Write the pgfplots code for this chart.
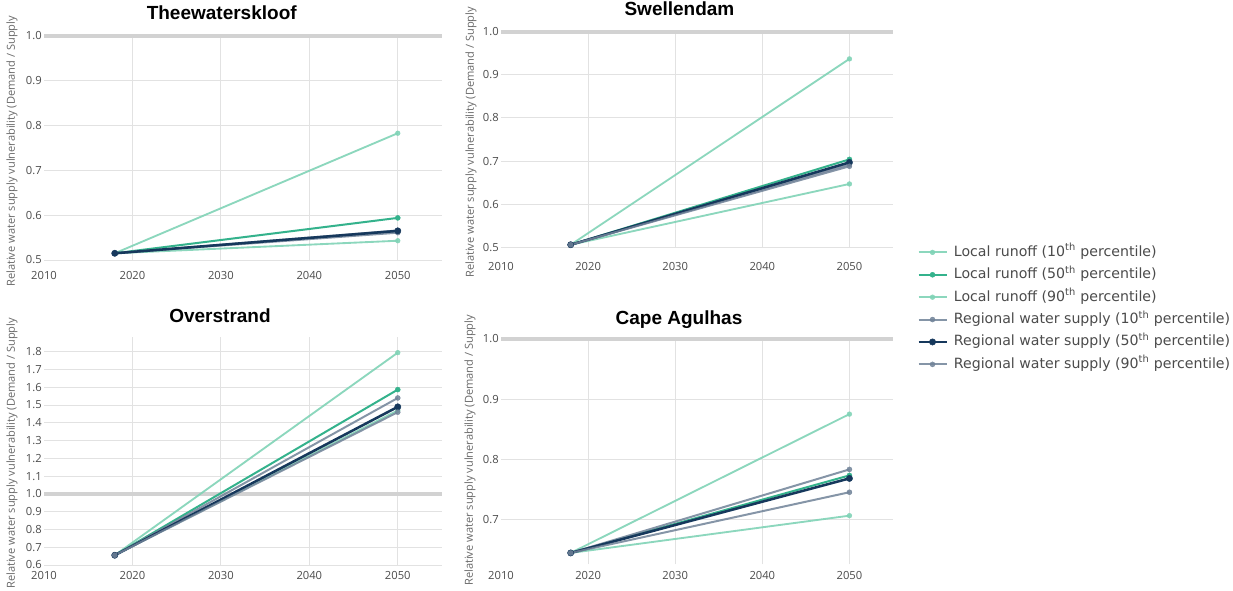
\documentclass[border=0pt]{standalone}
\usepackage{pgfplots}
\pgfplotsset{compat=1.18}
\usepackage{fontspec}
\setmainfont{Open Sans}
\newfontfamily\titlefont{Liberation Sans}
\newfontfamily\legendfont{DejaVu Sans}

\definecolor{lightteal}{RGB}{128,211,182}
\definecolor{midteal}{RGB}{52,178,140}
\definecolor{slate}{RGB}{112,130,152}
\definecolor{navy}{RGB}{22,56,92}
\definecolor{gridgray}{RGB}{226,226,226}
\definecolor{refgray}{RGB}{210,210,210}
\definecolor{ticktext}{RGB}{75,75,75}
\definecolor{labeltext}{RGB}{105,105,105}

\pgfplotsset{
  panel/.style={
    scale only axis,
    anchor=north west,
    axis line style={draw=none},
    major tick length=0pt,
    xmin=2010, xmax=2055,
    xtick={2020,2030,2040,2050},
    xticklabels={2020,2030,2040,2050},
    extra x ticks={2010},
    extra x tick labels={2010},
    extra x tick style={major grid style={draw=none}},
    extra y ticks={1},
    extra y tick labels={},
    extra y tick style={major grid style={draw=refgray, line width=3pt}},
    xmajorgrids, ymajorgrids,
    major grid style={draw=gridgray, line width=0.75pt},
    ticklabel style={font=\fontsize{8.4pt}{10pt}\selectfont, text=ticktext},
    yticklabel style={anchor=east, inner sep=0pt, xshift=-1.5pt},
    clip=false,
  },
  l10/.style={draw=lightteal, line width=1.4pt, opacity=0.9, mark=*, mark size=1.8pt, mark options={solid, line width=0.3pt, fill=lightteal, draw=lightteal}},
  l50/.style={draw=midteal, line width=1.5pt, mark=*, mark size=1.9pt, mark options={solid, line width=0.3pt, fill=midteal, draw=midteal}},
  l90/.style={draw=lightteal, line width=1.4pt, opacity=0.9, mark=*, mark size=1.8pt, mark options={solid, line width=0.3pt, fill=lightteal, draw=lightteal}},
  r10/.style={draw=slate, line width=1.5pt, opacity=0.85, mark=*, mark size=1.9pt, mark options={solid, line width=0.3pt, fill=slate, draw=slate}},
  r50/.style={draw=navy, line width=1.9pt, mark=*, mark size=2.4pt, mark options={solid, line width=0.3pt, fill=navy, draw=navy}},
  r90/.style={draw=slate, line width=1.5pt, opacity=0.85, mark=*, mark size=1.9pt, mark options={solid, line width=0.3pt, fill=slate, draw=slate}},
}

\begin{document}
\begin{tikzpicture}
\useasboundingbox (0pt,0pt) rectangle (924.75pt,-442.5pt);

% Theewaterskloof
\begin{axis}[panel, at={(33pt,-27pt)}, width=298.5pt, height=168pt,
  ymin=0.5, ymax=1.0,
  ytick={0.5,0.6,0.7,0.8,0.9,1.0}, yticklabels={0.5,0.6,0.7,0.8,0.9,1.0},
  xticklabel style={anchor=center, yshift=-11.25pt}]
\addplot[l10] coordinates {(2018,0.515) (2050,0.783)};
\addplot[l50] coordinates {(2018,0.515) (2050,0.594)};
\addplot[l90] coordinates {(2018,0.515) (2050,0.543)};
\addplot[r10] coordinates {(2018,0.515) (2050,0.566)};
\addplot[r90] coordinates {(2018,0.515) (2050,0.561)};
\addplot[r50] coordinates {(2018,0.515) (2050,0.565)};
\end{axis}

% Swellendam
\begin{axis}[panel, at={(375.75pt,-23.8pt)}, width=294pt, height=161.7pt,
  ymin=0.5, ymax=1.0,
  ytick={0.5,0.6,0.7,0.8,0.9,1.0}, yticklabels={0.5,0.6,0.7,0.8,0.9,1.0},
  xticklabel style={anchor=center, yshift=-14.5pt},
  legend style={at={(1.051,0.024)}, anchor=north west, draw=none, fill=none,
    font=\legendfont\fontsize{10.6pt}{12pt}\selectfont, text=ticktext,
    row sep=5.9pt, column sep=4.6pt,
    nodes={inner sep=0pt, text height=8.4pt, text depth=2.5pt}},
  legend cell align=left,
  legend image code/.code={\draw[mark repeat=2,mark phase=2] plot coordinates {(0pt,0pt) (10.5pt,0pt) (21pt,0pt)};}]
\addplot[l10] coordinates {(2018,0.506) (2050,0.937)};
\addlegendentry{Local runoff (10\textsuperscript{th} percentile)}
\addplot[l50] coordinates {(2018,0.506) (2050,0.704)};
\addlegendentry{Local runoff (50\textsuperscript{th} percentile)}
\addplot[l90] coordinates {(2018,0.506) (2050,0.647)};
\addlegendentry{Local runoff (90\textsuperscript{th} percentile)}
\addplot[r10] coordinates {(2018,0.506) (2050,0.692)};
\addlegendentry{Regional water supply (10\textsuperscript{th} percentile)}
\addplot[r50] coordinates {(2018,0.506) (2050,0.697)};
\addlegendentry{Regional water supply (50\textsuperscript{th} percentile)}
\addplot[r90] coordinates {(2018,0.506) (2050,0.688)};
\addlegendentry{Regional water supply (90\textsuperscript{th} percentile)}
\end{axis}

% Overstrand
\begin{axis}[panel, at={(33pt,-252.75pt)}, width=298.5pt, height=171pt,
  ymin=0.6, ymax=1.883,
  ytick={0.6,0.7,0.8,0.9,1.0,1.1,1.2,1.3,1.4,1.5,1.6,1.7,1.8},
  yticklabels={0.6,0.7,0.8,0.9,1.0,1.1,1.2,1.3,1.4,1.5,1.6,1.7,1.8},
  xticklabel style={anchor=center, yshift=-7.5pt}]
\addplot[l10] coordinates {(2018,0.655) (2050,1.795)};
\addplot[l50] coordinates {(2018,0.655) (2050,1.587)};
\addplot[l90] coordinates {(2018,0.655) (2050,1.470)};
\addplot[r10] coordinates {(2018,0.655) (2050,1.540)};
\addplot[r50] coordinates {(2018,0.655) (2050,1.490)};
\addplot[r90] coordinates {(2018,0.655) (2050,1.460)};
\end{axis}

% Cape Agulhas
\begin{axis}[panel, at={(375.75pt,-254.25pt)}, width=294pt, height=169pt,
  ymin=0.625, ymax=1.0,
  ytick={0.7,0.8,0.9,1.0}, yticklabels={0.7,0.8,0.9,1.0},
  xticklabel style={anchor=center, yshift=-8.25pt}]
\addplot[l10] coordinates {(2018,0.644) (2050,0.875)};
\addplot[l50] coordinates {(2018,0.644) (2050,0.773)};
\addplot[l90] coordinates {(2018,0.644) (2050,0.706)};
\addplot[r10] coordinates {(2018,0.644) (2050,0.783)};
\addplot[r50] coordinates {(2018,0.644) (2050,0.768)};
\addplot[r90] coordinates {(2018,0.644) (2050,0.745)};
\end{axis}

% titles
\node[font=\titlefont\bfseries\fontsize{14.25pt}{16pt}\selectfont, anchor=base] at (166.3pt,-14.25pt) {Theewaterskloof};
\node[font=\titlefont\bfseries\fontsize{14.25pt}{16pt}\selectfont, anchor=base] at (509.6pt,-11.25pt) {Swellendam};
\node[font=\titlefont\bfseries\fontsize{14.25pt}{16pt}\selectfont, anchor=base] at (165pt,-241.5pt) {Overstrand};
\node[font=\titlefont\bfseries\fontsize{14.25pt}{16pt}\selectfont, anchor=base] at (509.25pt,-243pt) {Cape Agulhas};

% y labels
\foreach \p in {(9pt,-215.25pt),(353.25pt,-208.5pt),(9pt,-441.75pt),(352.5pt,-439.5pt)}{
  \node[rotate=90, anchor=west, inner sep=0pt, text=labeltext, font=\fontsize{8.3pt}{10pt}\selectfont] at \p {Relative water supply vulnerability (Demand / Supply};
}
\end{tikzpicture}
\end{document}
